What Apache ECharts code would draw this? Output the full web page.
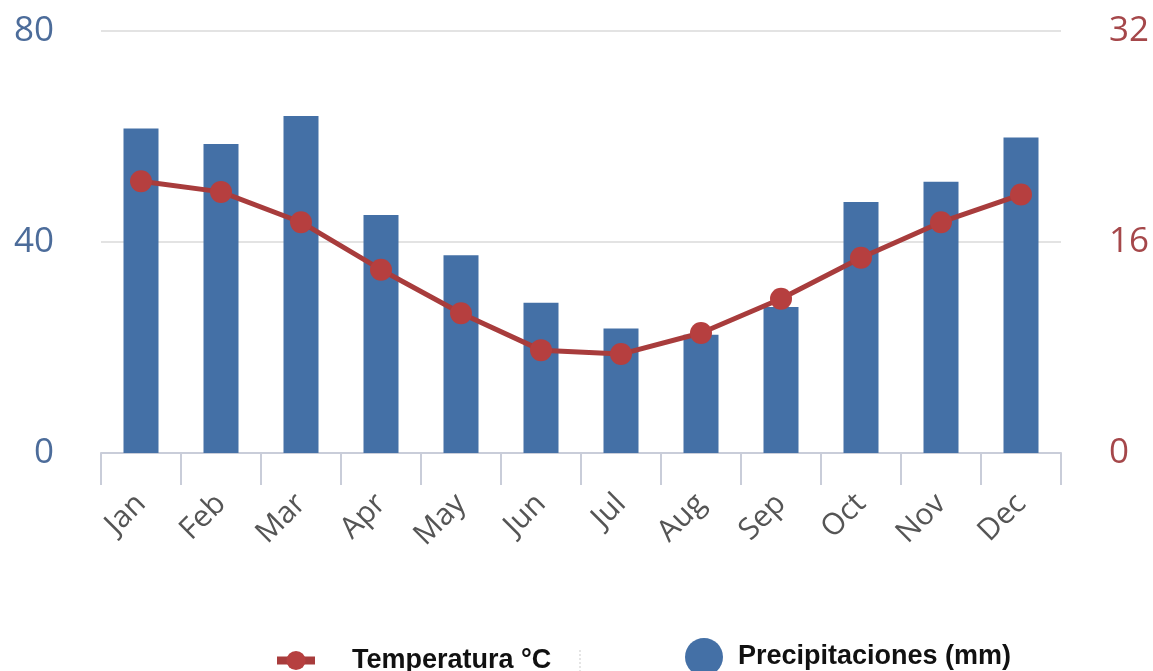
<!DOCTYPE html>
<html>
<head>
<meta charset="utf-8">
<script src="https://cdn.jsdelivr.net/npm/echarts@6/dist/echarts.min.js"></script>
<style>html,body{margin:0;padding:0;background:#fff;}#c{width:1153px;height:671px;}</style>
</head>
<body>
<div id="c"></div>
<script>
const months = ['Jan','Feb','Mar','Apr','May','Jun','Jul','Aug','Sep','Oct','Nov','Dec'];
const precipitation = [61.5, 58.6, 63.9, 45.1, 37.5, 28.5, 23.6, 22.4, 27.7, 47.6, 51.4, 59.8];
const temperature = [20.6, 19.8, 17.5, 13.9, 10.6, 7.8, 7.5, 9.1, 11.7, 14.8, 17.5, 19.6];
const leftTicks = {min: 0, max: 80, interval: 40};
const rightTicks = {min: 0, max: 32, interval: 16};
const tempName = 'Temperatura °C';
const precName = 'Precipitaciones (mm)';

const legendFont = {fontFamily: 'Liberation Sans Narrow, Arial Narrow, Liberation Sans, sans-serif', fontWeight: 'bold', fontSize: 27, color: '#111'};
const chart = echarts.init(document.getElementById('c'));
chart.setOption({
  animation: false,
  backgroundColor: '#ffffff',
  grid: {left: 101, right: 92, top: 31, bottom: 218},
  legend: [
    {data: [tempName], left: 268, top: 642, itemWidth: 38, itemHeight: 24,
     lineStyle: {width: 8},
     textStyle: Object.assign({padding: [0, 0, 0, 32]}, legendFont)},
    {data: [{name: precName, icon: 'circle'}], left: 680, top: 633, itemWidth: 38, itemHeight: 38,
     textStyle: Object.assign({padding: [0, 0, 0, 10]}, legendFont)}
  ],
  graphic: [{type: 'line', shape: {x1: 580, y1: 650, x2: 580, y2: 671}, style: {stroke: '#cccccc', lineWidth: 1, lineDash: [2, 2]}}],
  xAxis: {
    type: 'category', data: months, boundaryGap: true,
    axisLine: {lineStyle: {color: '#c9cdd9', width: 2}},
    axisTick: {show: true, length: 32, lineStyle: {color: '#c9cdd9', width: 2}},
    axisLabel: {rotate: 45, margin: 46, fontSize: 30, color: '#555', fontFamily: 'Open Sans, sans-serif'}
  },
  yAxis: [
    {type: 'value', min: leftTicks.min, max: leftTicks.max, interval: leftTicks.interval,
     axisLine: {show: false}, axisTick: {show: false},
     splitLine: {lineStyle: {color: '#e3e3e3', width: 2}},
     axisLabel: {margin: 47, fontSize: 35, color: '#4c6c9a', fontFamily: 'Open Sans, sans-serif'}},
    {type: 'value', min: rightTicks.min, max: rightTicks.max, interval: rightTicks.interval,
     position: 'right', axisLine: {show: false}, axisTick: {show: false}, splitLine: {show: false},
     axisLabel: {margin: 48, fontSize: 35, color: '#a5474a', fontFamily: 'Open Sans, sans-serif'}}
  ],
  series: [
    {name: precName, type: 'bar', yAxisIndex: 0, data: precipitation, barWidth: 35,
     itemStyle: {color: '#4470a6'}},
    {name: tempName, type: 'line', yAxisIndex: 1, data: temperature,
     symbol: 'circle', symbolSize: 22,
     lineStyle: {color: '#a83c3c', width: 5}, itemStyle: {color: '#b63f3f'}}
  ]
});
</script>
</body>
</html>
